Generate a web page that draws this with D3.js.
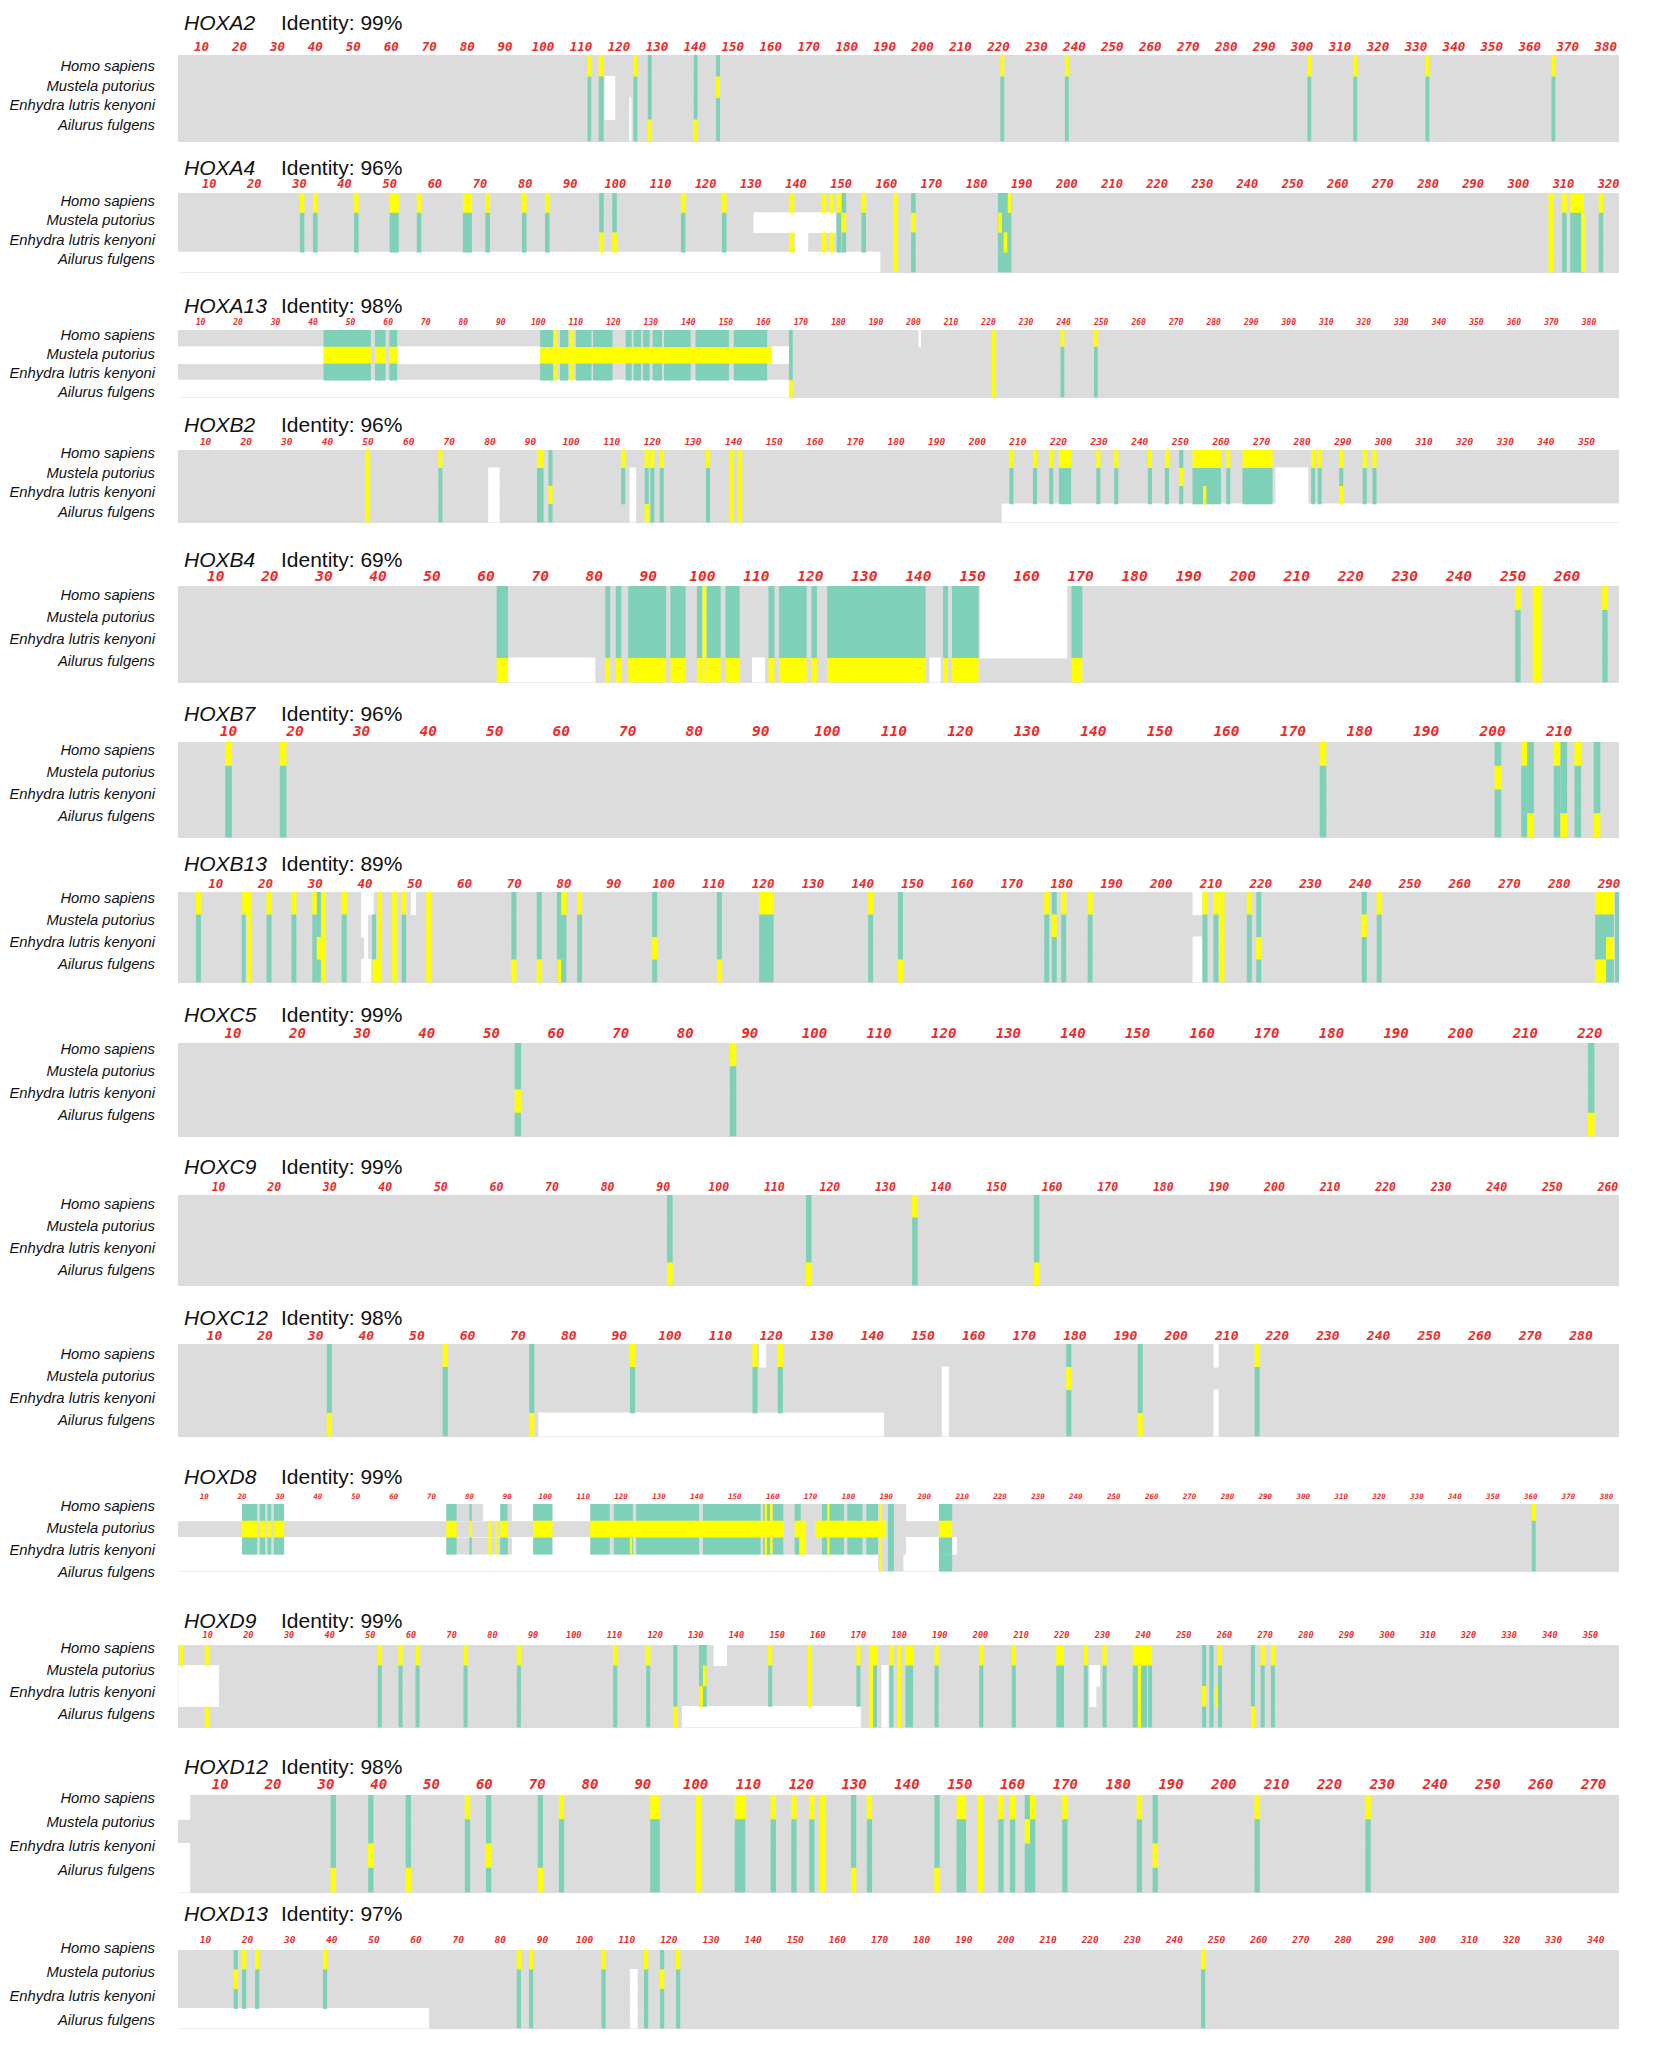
<!DOCTYPE html>
<html><head><meta charset="utf-8">
<script src="https://cdnjs.cloudflare.com/ajax/libs/d3/7.8.5/d3.min.js"></script>
<style>body{margin:0;background:#fff}</style></head>
<body>
<script>
// ---------------- DATA ----------------
const genes = ["HOXA2","HOXA4","HOXA13","HOXB2","HOXB4","HOXB7","HOXB13","HOXC5","HOXC9","HOXC12","HOXD8","HOXD9","HOXD12","HOXD13"];
const identity = [99,96,98,96,69,96,89,99,99,98,99,99,98,97];
const seqStart = [3.8,3.1,4,3.2,3,2.4,2.4,1.5,2.7,2.8,3.1,2.7,2,3.5];
const seqEnd   = [383.5,322.3,388,358,269.6,219,292,224.5,262,287.5,383.3,357,274.8,345.5];
const tickMax  = [380,320,380,350,260,210,290,220,260,280,380,350,270,340];
const species = ["Homo sapiens","Mustela putorius","Enhydra lutris kenyoni","Ailurus fulgens"];

// columns: [centre position, width in positions, code per row (Y yellow, T teal, g grey fill, G nothing)]
// gaps: [rows, from, to] white (null = sequence start / end)
const colsHOXA2 = [[112.2,1,"YTTT"],[115.3,1.3,"YTTT"],[124.3,1,"YTTT"],[128.1,1,"TTTY"],[140.2,1,"TTTY"],[146.1,1,"TYTT"],[221,1,"YTTT"],[238,1,"YTTT"],[301.9,1,"YTTT"],[314,1,"YTTT"],[333,1,"YTTT"],[366.2,1,"YTTT"]];
const gapsHOXA2 = [[[1,2],116.2,119],[[2,3],122.7,123.3]];

const colsHOXA4 = [[30.6,1,"YTTG"],[33.5,1,"YTTG"],[42.6,1,"YTTG"],[51,2,"YTTG"],[56.5,1,"YTTG"],[67.2,2,"YTTG"],[71.7,1,"YTTG"],[79.8,1,"YTTG"],[84.9,1,"YTTG"],[96.9,1,"TTYG"],[99.8,1,"TTYG"],[115,1,"YTTG"],[124.1,1,"YTTG"],[139.1,1,"YGYG"],[146.2,1,"YGYG"],[147.9,0.8,"YGYG"],[149.5,1,"YTTG"],[150.6,1,"TYTG"],[155,1,"YTTG"],[162,1,"YYYY"],[166,1,"TYTT"],[186.2,3,"TTTT"],[187.3,0.8,"YGGG"],[185.2,0.8,"GYGG"],[186.4,0.8,"GGYG"],[307.2,1,"YYYY"],[310.2,1,"YTTT"],[313,3,"YTTT"],[314.3,0.8,"GYYY"],[318.3,1,"YTTT"]];
const gapsHOXA4 = [[[3],null,158.7],[[1],130.6,148.8],[[2],139.8,142.7]];

const colsHOXA13 = [[49.1,12.6,"TYTG"],[57.9,2.8,"TYTG"],[61.35,2.1,"TYTG"],[131.35,61.7,"GYGG"],[102.25,3.5,"TGTG"],[106.9,2.2,"TGTG"],[112.1,4.2,"TGTG"],[117.2,5.2,"TGTG"],[124.1,1.6,"TGTG"],[126.4,2,"TGTG"],[128.8,1.8,"TGTG"],[131.75,2.5,"TGTG"],[137.05,7.1,"TGTG"],[146.35,8.9,"TGTG"],[156.55,8.9,"TGTG"],[104.5,0.8,"YYYG"],[108.9,0.8,"YYYG"],[167.3,1,"TTTY"],[221.4,1,"YYYY"],[239.7,1,"YTTT"],[248.6,1,"YTTT"]];
const gapsHOXA13 = [[[3],null,167.3],[[1],null,42.8],[[1],62.4,100.5],[[1],162.2,167],[[0],201.3,202]];

const colsHOXB2 = [[49.9,1,"YYYY"],[67.8,1,"YTTT"],[92.4,1.6,"YTTT"],[94.9,1,"TTYT"],[112.8,1,"YTTG"],[118.6,1,"YTTY"],[120,1,"YTTT"],[122.3,1,"YTTT"],[133.7,1,"YTTT"],[139.5,1,"YYYY"],[141.6,1,"YYYY"],[208.4,1,"YTTG"],[214.2,1,"YTTG"],[218.2,1,"YTTG"],[221.6,3,"YTTG"],[229.8,1,"YTTG"],[234.2,1,"YTTG"],[242.5,1,"YTTG"],[246.7,1,"YTTG"],[250.2,1,"TYTG"],[256.5,7,"YTTG"],[256,0.8,"GGYG"],[261.8,1,"YTTG"],[269,7.4,"YTTG"],[282.7,1,"YTTG"],[284.3,1,"YTTG"],[289.6,1,"YTYG"],[295.4,1,"YTTG"],[297.8,1,"YTTG"]];
const gapsHOXB2 = [[[3],206,null],[[1,2,3],79.6,82.4],[[1,2,3],114.4,116],[[1,2],273.4,281.5]];

const colsHOXB4 = [[63,2.1,"TTTY"],[82.5,0.9,"TTTY"],[84.5,1,"TTTY"],[89.8,7,"TTTY"],[95.5,2.8,"TTTY"],[99.5,1,"TTTY"],[100.4,0.7,"YYYY"],[102.1,2.6,"TTTY"],[105.6,2.6,"TTTY"],[112.8,1.1,"TTTY"],[116.75,5.1,"TTTY"],[120.7,1,"TTTY"],[132.2,18.2,"TTTY"],[145,0.9,"TTTY"],[148.65,4.9,"TTTY"],[169.3,2,"TTTY"],[250.9,1,"YTTT"],[254.5,1.7,"YYYY"],[267,1,"YTTT"]];
const gapsHOXB4 = [[[3],64.1,80.2],[[3],109.2,111.6],[[3],142,144.1],[[0,1,2],151.4,167.5]];

const colsHOXB7 = [[10,1,"YTTT"],[18.2,1,"YTTT"],[174.5,1,"YTTT"],[200.8,1,"TYTT"],[204.8,1,"YTTT"],[205.7,1,"TTTY"],[209.7,1,"YTTT"],[210.7,1,"TTTY"],[212.8,1,"YTTT"],[215.7,1,"TTTY"]];
const gapsHOXB7 = [];

const colsHOXB13 = [[6.5,1,"YTTT"],[16.2,1.8,"YGGG"],[15.6,0.8,"GTTT"],[16.7,0.8,"GYYY"],[20.7,1,"YTTT"],[25.7,1,"YTTT"],[29.85,0.9,"YTTT"],[30.7,0.8,"TTYT"],[31.7,0.8,"YYYY"],[35.8,1,"YTTT"],[41.8,0.8,"GTTG"],[42,1,"GGGY"],[42.9,0.8,"YYYY"],[45.9,0.9,"YYYY"],[47.8,0.9,"YTTT"],[52.8,1,"YYYY"],[69.9,1,"TTTY"],[75,1,"TTTY"],[79.5,1.9,"TTTT"],[79.95,1.1,"YGGG"],[79,0.8,"GGGY"],[83.1,1,"YTTT"],[98.2,1,"TTYT"],[111.2,1,"TTTY"],[120.65,2.9,"YTTT"],[141.6,1,"YTTT"],[147.6,1,"TTTY"],[177,1,"YTTT"],[178.5,1,"TYTT"],[180.4,1,"YTTT"],[185.7,1,"YTTT"],[208.8,1,"YTTT"],[211,1,"YTTT"],[212.2,1,"YYYY"],[217.7,1,"YTTT"],[219.6,1,"TTYT"],[240.8,1,"TYTT"],[243.8,1,"YTTT"],[288.3,2.2,"YTTY"],[290.2,1.6,"YTYT"],[291.6,0.8,"TTTT"]];
const gapsHOXB13 = [[[0],39.2,41.7],[[1],39.2,40.6],[[2],39.8,40.6],[[3],39.2,41.2],[[0],49.2,50.2],[[0,2,3],206.3,208.2]];

const colsHOXC5 = [[54.1,1,"TTYT"],[87.4,1,"YTTT"],[220.2,1,"TTTY"]];
const gapsHOXC5 = [];

const colsHOXC9 = [[91.2,1,"TTTY"],[116.2,1,"TTTY"],[135.3,1,"YTTT"],[157.2,1,"TTTY"]];
const gapsHOXC9 = [];

const colsHOXC12 = [[32.7,1,"TTTY"],[55.6,1,"YTTT"],[72.7,1,"TTTY"],[92.6,1,"YTTG"],[116.8,1,"YTTG"],[121.8,1,"YTTG"],[178.8,1,"TYTT"],[192.9,1,"TTTY"],[216,1,"YTTT"]];
const gapsHOXC12 = [[[3],74,142.3],[[0],117.6,119],[[1,2,3],153.7,155.1],[[0,2,3],207.4,208.4]];

const colsHOXD8 = [[25.55,11.1,"gggG"],[78.75,9.7,"gGgG"],[87.4,7.6,"GGgG"],[90.65,1.1,"gGGG"],[153.55,83.3,"gggG"],[191.15,6.7,"GGGg"],
  [22,4,"TYTG"],[25.4,1.4,"TYTG"],[27.2,1,"TYTG"],[29.75,2.7,"TYTG"],
  [75.25,2.7,"TYTG"],[80.3,0.6,"TYTG"],[85.4,0.8,"GYYG"],[87.1,0.6,"GYYG"],[89.1,2,"TYTG"],[99.35,5.1,"TYTG"],
  [137.35,50.9,"GYGG"],[180.5,18.6,"GYGG"],
  [114.45,5.1,"TYTG"],[120.6,5,"TYTG"],[132.3,16.6,"TYTG"],[149.2,15.2,"TYTG"],[158.7,2.4,"TYTG"],[161.45,2.7,"TYTG"],
  [158.2,0.6,"YYYG"],[159.6,0.6,"YYYG"],[122.6,0.6,"GGYG"],[166.6,1.6,"TYTG"],[167.9,1.8,"GYYG"],
  [175.9,5.8,"TYTG"],[174.7,0.6,"YYYG"],[181.7,4,"TYTG"],[186.25,3.1,"TYTG"],[188.5,0.6,"YYYY"],[191.2,1.6,"TTTT"],
  [205.6,3.5,"TYTT"],[360.8,1,"YTTT"]];
const gapsHOXD8 = [[[0,3],null,203.9],[[2],null,208.6]];

const colsHOXD9 = [[3.5,1,"YGGG"],[9.8,1,"YGGY"],[52.3,1,"YTTT"],[57.4,1,"YTTT"],[61.6,1,"YTTT"],[73.4,1,"YTTT"],[86.5,1,"YTTT"],[110.2,1,"YTTT"],[118.3,1,"YTTT"],[125,1,"TTTY"],[131.75,1.9,"TTTG"],[132.2,0.9,"GYGG"],[131.3,0.9,"GGYG"],[148.3,1,"YTTG"],[158,1,"YYYG"],[170,1,"YTTG"],[173.65,1.9,"YGGG"],[173.1,0.9,"GYYY"],[174.1,0.9,"GTTT"],[178.1,1,"YTTT"],[180,1,"YYYY"],[182.5,1.9,"YTTT"],[189.2,1,"YTTT"],[200.2,1,"YTTT"],[208.2,1,"YTTT"],[219.6,1.9,"YTTT"],[225.9,1,"YTTT"],[230.5,1,"YTTT"],[239.2,3.5,"YTTT"],[239.1,0.8,"YYYY"],[241.7,1,"YTTT"],[255,1,"TTYT"],[256.8,1,"TTTT"],[258,0.7,"GGYG"],[258.9,1,"YTTT"],[267,1,"TTTY"],[269.4,1,"YTTT"],[271.9,1,"YTTT"]];
const gapsHOXD9 = [[[1,2],2.8,12.8],[[3],126.6,170.6],[[0],134.4,137.7],[[1,2,3],175.7,177.4],[[1],226.8,229.4],[[2],226.8,228.5]];

const colsHOXD12 = [[31.4,1,"TTTY"],[38.5,1,"TTYT"],[45.6,1,"TTTY"],[56.8,1,"YTTT"],[60.8,1,"TTYT"],[70.6,1,"TTTY"],[74.6,1,"YTTT"],[92.3,1.8,"YTTT"],[100.5,1,"YYYY"],[108.4,2,"YTTT"],[114.7,1,"YTTT"],[118.6,1,"YTTT"],[122,1,"YTTT"],[124,1,"YYYY"],[129.9,1,"TTTY"],[132.9,1,"YTTT"],[145.7,1,"TTTY"],[150.3,1.8,"YTTT"],[153.9,1,"YYYY"],[157.8,1,"YTTT"],[160,1,"YTTT"],[162.8,1,"TYTT"],[163.8,1,"YTTT"],[169.9,1,"YTTT"],[184,1,"YTTT"],[187,1,"TTYT"],[206.3,1,"YTTT"],[227.3,1,"YTTT"]];
const gapsHOXD12 = [[[0,2,3],null,4.3]];

const colsHOXD13 = [[17.2,1,"TYTG"],[19.2,1,"YTTG"],[22.3,1,"YTTG"],[38.4,1,"YTTG"],[84.4,1,"YTTT"],[87.3,1,"YTTT"],[104.5,1,"YTTT"],[114.6,1,"YTTT"],[118.4,1,"TYTT"],[122.2,1,"YTTT"],[246.8,1,"YTTT"]];
const gapsHOXD13 = [[[3],null,63.1],[[1,2,3],110.8,112.6]];

const columnSets = [colsHOXA2,colsHOXA4,colsHOXA13,colsHOXB2,colsHOXB4,colsHOXB7,colsHOXB13,colsHOXC5,colsHOXC9,colsHOXC12,colsHOXD8,colsHOXD9,colsHOXD12,colsHOXD13];
const gapSets = [gapsHOXA2,gapsHOXA4,gapsHOXA13,gapsHOXB2,gapsHOXB4,gapsHOXB7,gapsHOXB13,gapsHOXC5,gapsHOXC9,gapsHOXC12,gapsHOXD8,gapsHOXD9,gapsHOXD12,gapsHOXD13];

// ---------------- LAYOUT ----------------
const titleY   = [22,167,305,424,559,713,863,1014,1166,1317,1476,1620,1766,1913];
const tickY    = [46,184,322,442,576,731,883,1033,1187,1335,1496,1635,1784,1940];
const barTop   = [55,193,330,450,586,742,892,1043,1195,1344,1504,1645,1795,1950];
const barBot   = [141,272,397,522,682,837,982,1136,1285,1436,1571,1727,1892,2028];
const labelY0  = [66.4,200.5,334.6,453,595,750,898,1049,1204,1354,1506,1648,1798,1948];
const labelDy  = [19.5,19.5,19.1,19.5,22.1,22.1,22.1,22.1,22.1,22.1,22.1,22.1,23.9,23.9];
const tickFont = [12.5,12,8,9.5,14.5,14.5,12.5,14,11.5,13,7.5,8.5,14,9.5];
const X0 = 178, X1 = 1619;
const colour = {Y:"#ffff00", T:"#7fd0b9", g:"#dcdcdc"};
const GREY = "#dcdcdc";

const svg = d3.select("body").append("svg").attr("width",1654).attr("height",2048);

genes.forEach((g,i)=>{
  const x = d3.scaleLinear().domain([seqStart[i], seqEnd[i]]).range([X0, X1]);
  const y = d3.scaleBand().domain([0,1,2,3]).range([barTop[i], barBot[i]]);
  const p = svg.append("g");

  // title
  const t = p.append("text").attr("x",184).attr("y",titleY[i]+7.5)
    .attr("font-family","'Liberation Sans', Arial, sans-serif").attr("font-size",21).attr("fill","#111");
  t.append("tspan").attr("font-style","italic").text(g);
  t.append("tspan").attr("x",281).text("Identity: "+identity[i]+"%");

  // ticks
  p.selectAll("text.tick").data(d3.range(10, tickMax[i]+1, 10)).join("text")
    .attr("class","tick").attr("x",d=>x(d)).attr("y",tickY[i]+tickFont[i]*0.36)
    .attr("text-anchor","middle").attr("font-family","'DejaVu Sans Mono', monospace")
    .attr("font-weight","bold").attr("font-style","italic").attr("font-size",tickFont[i])
    .attr("fill","#ee2a2a").text(d=>d);

  // species labels
  p.selectAll("text.sp").data(species).join("text").attr("class","sp")
    .attr("x",155).attr("y",(d,k)=>labelY0[i]+k*labelDy[i]+5)
    .attr("text-anchor","end").attr("font-family","'Liberation Sans', Arial, sans-serif")
    .attr("font-style","italic").attr("font-size",14.8).attr("fill","#111").text(d=>d);

  // grey rows
  p.selectAll("rect.row").data([0,1,2,3]).join("rect").attr("class","row")
    .attr("x",x(seqStart[i])).attr("width",x(seqEnd[i])-x(seqStart[i]))
    .attr("y",d=>y(d)).attr("height",y.bandwidth()+0.5).attr("fill",GREY)
    .attr("shape-rendering","crispEdges");

  // white gaps
  const gapRects = [];
  gapSets[i].forEach(([rows,a,b])=>rows.forEach(r=>gapRects.push({r,a:a==null?seqStart[i]:a,b:b==null?seqEnd[i]:b})));
  p.selectAll("rect.gap").data(gapRects).join("rect").attr("class","gap")
    .attr("x",d=>x(d.a)).attr("width",d=>x(d.b)-x(d.a))
    .attr("y",d=>y(d.r)-0.5).attr("height",y.bandwidth()+1).attr("fill","#fff");

  // coloured columns
  const cells = [];
  columnSets[i].forEach(([c,w,code])=>code.split("").forEach((ch,r)=>{ if(colour[ch]) cells.push({c,w,r,ch}); }));
  p.selectAll("rect.cell").data(cells).join("rect").attr("class","cell")
    .attr("x",d=>x(d.c-d.w/2)).attr("width",d=>x(d.c+d.w/2)-x(d.c-d.w/2))
    .attr("y",d=>y(d.r)).attr("height",y.bandwidth()+0.3).attr("fill",d=>colour[d.ch]);
});
</script>
</body></html>
